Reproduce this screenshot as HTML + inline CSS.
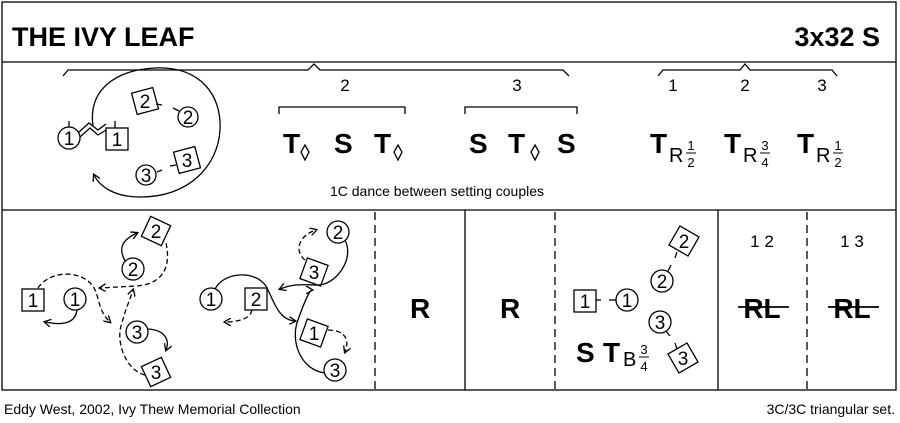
<!DOCTYPE html>
<html><head><meta charset="utf-8"><style>
html,body{margin:0;padding:0;background:#fff}
svg{display:block}
text{font-family:"Liberation Sans",sans-serif;fill:#000}
.b{font-weight:bold}
</style></head><body>
<svg width="900" height="423" viewBox="0 0 900 423" xmlns="http://www.w3.org/2000/svg">
<defs>
<marker id="a" markerWidth="8" markerHeight="8" refX="6" refY="4" orient="auto" markerUnits="userSpaceOnUse"><path d="M0,0 L7,4 L0,8" fill="none" stroke="#000" stroke-width="1.3"/></marker>
</defs>
<g fill="none" stroke="#000" stroke-width="1.3">
<rect x="2" y="2" width="894" height="388"/>
<line x1="2" y1="62" x2="896" y2="62"/>
<line x1="2" y1="210" x2="896" y2="210"/>
<line x1="465" y1="210" x2="465" y2="390"/>
<line x1="718" y1="210" x2="718" y2="390"/>
<g stroke-dasharray="8,5"><line x1="375" y1="212" x2="375" y2="390"/><line x1="555" y1="212" x2="555" y2="390"/><line x1="807" y1="212" x2="807" y2="390"/></g>
<path d="M63,76 L68,70 L308,70 L314,64 L320,70 L563,70 L569,76"/>
<path d="M658,76 L663,70 L740,70 L745,64 L750,70 L832,70 L837,76"/>
<path d="M279,114 L279,107 L405,107 L405,114"/>
<path d="M465,114 L465,107 L577,107 L577,114"/>
<path d="M305,145 L309,152 L305,160 L301,152Z"/>
<path d="M398,145 L402,152 L398,160 L394,152Z"/>
<path d="M535,145 L539,152 L535,160 L531,152Z"/>
<!-- top-left figure -->
<circle cx="69" cy="138" r="11"/>
<line x1="69" y1="121" x2="69" y2="127"/>
<rect x="106" y="128" width="22" height="22"/>
<line x1="115" y1="121" x2="115" y2="128"/>
<path d="M79,132 L89,123 L98,130 L106,124" />
<path d="M80,137 L90,128 L98,135 L106,130" />
<path d="M93,126 C88,90 115,70 155,68 C200,66 222,95 220,130 C218,165 190,197 140,197 C115,197 100,187 94,175" marker-end="url(#a)"/>
<g transform="translate(145,101) rotate(-15)"><rect x="-11" y="-11" width="22" height="22"/></g>
<line x1="156" y1="104" x2="162" y2="105"/>
<circle cx="188" cy="117" r="10"/><line x1="173" y1="108" x2="179" y2="111"/>
<circle cx="146" cy="175" r="10"/><line x1="157" y1="172" x2="162" y2="170"/>
<g transform="translate(187,160) rotate(-15)"><rect x="-11" y="-11" width="22" height="22"/></g>
<line x1="170" y1="166" x2="176" y2="165"/>
<!-- bottom-left diagram 1 -->
<rect x="22" y="289" width="22" height="22"/>
<circle cx="75" cy="299" r="11"/>
<path d="M77,310 C75,325 60,325 45,322" marker-end="url(#a)"/>
<g transform="translate(156,231) rotate(25)"><rect x="-11" y="-11" width="22" height="22"/></g>
<circle cx="133" cy="269" r="11"/>
<path d="M125,261 C118,248 122,240 137,233" marker-end="url(#a)"/>
<circle cx="137" cy="332" r="11"/>
<path d="M148,329 C165,330 170,340 166,350" marker-end="url(#a)"/>
<g transform="translate(156,372) rotate(-25)"><rect x="-11" y="-11" width="22" height="22"/></g>
<g stroke-dasharray="5,3">
<path d="M38,288 C50,270 80,270 92,285 C100,295 97,310 110,322" marker-end="url(#a)"/>
<path d="M166,243 C172,270 160,285 135,286 L100,288" marker-end="url(#a)"/>
<path d="M145,375 C125,370 115,340 122,323 C125,310 130,300 133,290" marker-end="url(#a)"/>
</g>
<!-- bottom-left diagram 2 -->
<circle cx="211" cy="299" r="11"/>
<rect x="245" y="288" width="22" height="22"/>
<circle cx="338" cy="232" r="11"/>
<g transform="translate(314,272) rotate(20)"><rect x="-11" y="-11" width="22" height="22"/></g>
<g transform="translate(314,333) rotate(20)"><rect x="-11" y="-11" width="22" height="22"/></g>
<circle cx="335" cy="370" r="11"/>
<path d="M215,289 C225,270 260,270 268,290 C275,305 280,320 295,321" marker-end="url(#a)"/>
<path d="M345,240 C355,260 335,285 318,285 C305,285 295,283 280,289" marker-end="url(#a)"/>
<path d="M325,373 C300,370 290,340 298,320 C305,300 310,290 312,290" marker-end="url(#a)"/>
<g stroke-dasharray="5,3">
<path d="M252,310 C250,320 235,322 225,322" marker-end="url(#a)"/>
<path d="M305,260 C293,250 300,235 316,230" marker-end="url(#a)"/>
<path d="M328,330 C345,330 350,340 345,352" marker-end="url(#a)"/>
</g>
<!-- right diagram -->
<rect x="574" y="290" width="22" height="22"/><line x1="596" y1="300" x2="601" y2="300"/>
<circle cx="627" cy="300" r="11"/><line x1="609" y1="300" x2="616" y2="300"/>
<circle cx="662" cy="281" r="11"/><line x1="668" y1="271" x2="671" y2="265"/>
<g transform="translate(684,241) rotate(30)"><rect x="-11" y="-11" width="22" height="22"/></g>
<line x1="677" y1="252" x2="675" y2="258"/>
<circle cx="660" cy="322" r="11"/><line x1="666" y1="331" x2="670" y2="336"/>
<g transform="translate(683,358) rotate(-30)"><rect x="-11" y="-11" width="22" height="22"/></g>
<line x1="675" y1="343" x2="677" y2="349"/>
<line x1="738" y1="307" x2="789" y2="307" stroke-width="1.8"/>
<line x1="828" y1="307" x2="879" y2="307" stroke-width="1.8"/>
</g>
<g font-size="19" text-anchor="middle">
<text x="69" y="145">1</text><text x="117" y="146">1</text>
<text x="145" y="108">2</text><text x="188" y="124">2</text>
<text x="146" y="182">3</text><text x="187" y="167">3</text>
<text x="33" y="307">1</text><text x="75" y="306">1</text>
<text x="156" y="238">2</text><text x="133" y="276">2</text>
<text x="137" y="339">3</text><text x="156" y="379">3</text>
<text x="211" y="306">1</text><text x="256" y="306">2</text>
<text x="338" y="239">2</text><text x="314" y="279">3</text>
<text x="314" y="340">1</text><text x="335" y="377">3</text>
<text x="585" y="308">1</text><text x="627" y="307">1</text>
<text x="662" y="288">2</text><text x="684" y="248">2</text>
<text x="660" y="329">3</text><text x="683" y="365">3</text>
</g>
<text x="12" y="46" class="b" font-size="27">THE IVY LEAF</text>
<text x="880" y="46" class="b" font-size="27" text-anchor="end">3x32 S</text>
<g font-size="17" text-anchor="middle">
<text x="345" y="91">2</text><text x="517" y="91">3</text>
<text x="673" y="91">1</text><text x="745" y="91">2</text><text x="822" y="91">3</text>
<text x="762" y="247">1 2</text><text x="852" y="247">1 3</text>
</g>
<g class="b" font-size="28">
<text x="283" y="153">T</text><text x="334" y="153">S</text><text x="374" y="153">T</text>
<text x="469" y="153">S</text><text x="508" y="153">T</text><text x="557" y="153">S</text>
<text x="650" y="153">T</text><text x="724" y="153">T</text><text x="797" y="153">T</text>
<text x="410" y="318">R</text><text x="500" y="318">R</text>
<text x="576" y="362">S</text><text x="603" y="362">T</text>
</g>
<g class="b" font-size="28" text-anchor="middle"><text x="762" y="318">RL</text><text x="852" y="318">RL</text></g>
<g font-size="20">
<text x="669" y="162">R</text><text x="743" y="162">R</text><text x="816" y="162">R</text>
<text x="623" y="366">B</text>
</g>
<g font-size="13" text-anchor="middle">
<text x="691" y="150">1</text><text x="691" y="167">2</text>
<text x="765" y="150">3</text><text x="765" y="167">4</text>
<text x="838" y="150">1</text><text x="838" y="167">2</text>
<text x="644" y="354">3</text><text x="644" y="371">4</text>
</g>
<g stroke="#000" stroke-width="1"><line x1="686" y1="153" x2="696" y2="153"/><line x1="760" y1="153" x2="770" y2="153"/><line x1="833" y1="153" x2="843" y2="153"/><line x1="639" y1="357" x2="649" y2="357"/></g>
<text x="437" y="196" font-size="14" text-anchor="middle">1C dance between setting couples</text>
<text x="4" y="414" font-size="14">Eddy West, 2002, Ivy Thew Memorial Collection</text>
<text x="895" y="414" font-size="14" text-anchor="end">3C/3C  triangular set.</text>
</svg>
</body></html>
